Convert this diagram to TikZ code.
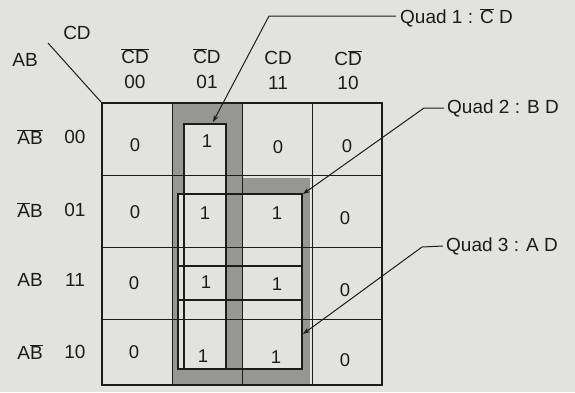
\documentclass[tikz,border=0pt]{standalone}
\usepackage{fontspec}
\setmainfont{Liberation Sans}
\usetikzlibrary{arrows.meta}
\definecolor{paper}{RGB}{226,226,223}
\definecolor{quadgray}{RGB}{150,150,148}
\definecolor{ink}{RGB}{28,28,28}
\newcommand{\ob}[1]{\ensuremath{\overline{\mbox{#1}}}}
\begin{document}
\begin{tikzpicture}[x=1pt,y=-1pt,
  txt/.style={font=\fontsize{19}{22}\selectfont, text=ink, inner sep=0pt},
  val/.style={font=\fontsize{18.5}{22}\selectfont, text=ink, inner sep=0pt},
  gridline/.style={draw=ink, line width=0.9pt},
  border/.style={draw=ink, line width=2.6pt},
  quadbox/.style={draw=ink, line width=1.1pt},
  callout/.style={draw=ink, line width=1pt, -{Stealth[length=7pt,width=5pt]}}]
\useasboundingbox[fill=paper] (0,0) rectangle (575,392);
% shading of the quads
\fill[quadgray] (172,103) rectangle (242,385);
\fill[quadgray] (172,178) rectangle (310,385);
\fill[paper] (184,124) rectangle (226,369);
\fill[paper] (242,194) rectangle (302,369);
\fill[paper] (178,194) rectangle (184,369);
% grid
\foreach \x in {172,242,312} \draw[gridline] (\x,103) -- (\x,385);
\foreach \y in {175,247,319} \draw[gridline] (102,\y) -- (382,\y);
% quad boxes
\draw[quadbox] (184,124) rectangle (226,369);
\draw[quadbox] (178,194) rectangle (302,300);
\draw[quadbox] (178,266) rectangle (302,369);
\draw[draw=ink, line width=2.4pt] (178,266) -- (178,300);
\draw[draw=ink, line width=2.4pt] (302,268) -- (302,300);
% outer border
\draw[border] (102,103) rectangle (382,385);
% corner labels
\node[txt] (cdlab) at (77,33) {CD};
\node[txt] (ablab) at (25,60) {AB};
\coordinate (d1) at (48,43);
\coordinate (d2) at (101,102);
\draw[draw=ink, line width=1pt] (d1) -- (d2);
% column headers
\node[txt] (h0) at (135,56) {\ob{C}\ob{D}};
\node[txt] (h1) at (207,56) {\ob{C}D};
\node[txt] (h2) at (278,58) {CD};
\node[txt] (h3) at (348,58) {C\ob{D}};
\node[txt] (c0) at (135,82) {00};
\node[txt] (c1) at (207,82) {01};
\node[txt] (c2) at (278,83) {11};
\node[txt] (c3) at (348,83) {10};
% row headers
\node[txt] (r0a) at (30,137) {\ob{A}\ob{B}};
\node[txt] (r1a) at (30,210) {\ob{A}B};
\node[txt] (r2a) at (30,280) {AB};
\node[txt] (r3a) at (30,352) {A\ob{B}};
\node[txt] (r0) at (75,137) {00};
\node[txt] (r1) at (75,210) {01};
\node[txt] (r2) at (75,280) {11};
\node[txt] (r3) at (75,352) {10};
% cell values
\node[val] (v00) at (135,145) {0};
\node[val] (v01) at (207,141) {1};
\node[val] (v02) at (278,147) {0};
\node[val] (v03) at (347,146) {0};
\node[val] (v10) at (135,212) {0};
\node[val] (v11) at (205,213) {1};
\node[val] (v12) at (277,213) {1};
\node[val] (v13) at (345,218) {0};
\node[val] (v20) at (134,283) {0};
\node[val] (v21) at (206,282) {1};
\node[val] (v22) at (277,284) {1};
\node[val] (v23) at (345,290) {0};
\node[val] (v30) at (134,352) {0};
\node[val] (v31) at (203,356) {1};
\node[val] (v32) at (276,357) {1};
\node[val] (v33) at (345,360) {0};
% callouts
\node[txt, anchor=west, inner sep=4pt] (q1) at (396,18) {Quad 1 : \ob{C} D};
\node[txt, anchor=west, inner sep=3pt] (q2) at (444,108) {Quad 2 : B D};
\node[txt, anchor=west, inner sep=3pt] (q3) at (443,246) {Quad 3 : A D};
\coordinate (b1) at (269,16);
\coordinate (t1) at (213,122);
\coordinate (b2) at (424,108);
\coordinate (t2) at (303,194);
\coordinate (b3) at (422,247);
\coordinate (t3) at (303,334);
\draw[callout] (q1.west |- b1) -- (b1) -- (t1);
\draw[callout] (q2.west) -- (b2) -- (t2);
\draw[callout] (q3.west) -- (b3) -- (t3);
\end{tikzpicture}
\end{document}
